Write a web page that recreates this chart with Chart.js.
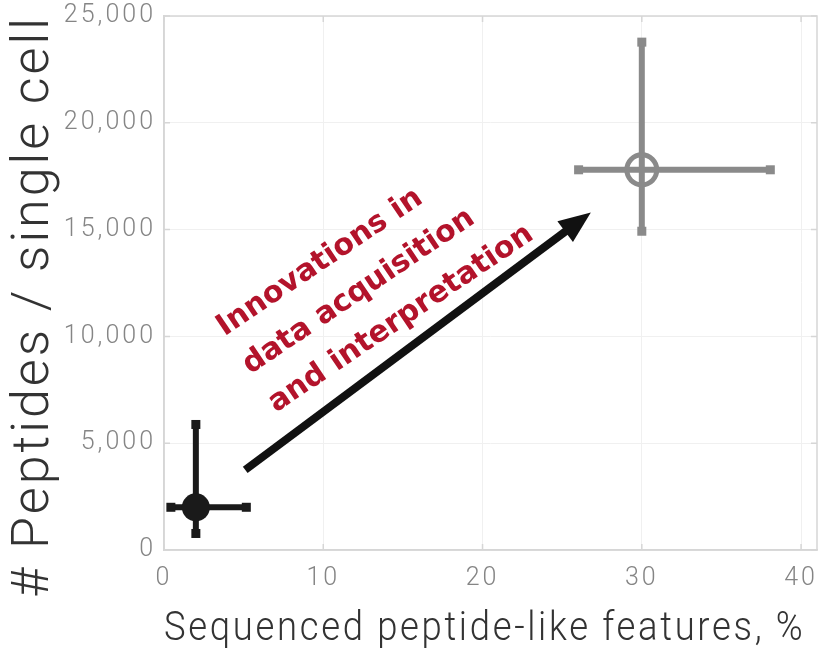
<!DOCTYPE html>
<html>
<head>
<meta charset="utf-8">
<script src="https://cdn.jsdelivr.net/npm/chart.js@4"></script>
<style>
  body { margin: 0; background: #fff; }
</style>
</head>
<body>
<canvas id="chart" width="831" height="651"></canvas>
<script>
// values
var seriesNames = ['before', 'after'];
var xValues = [2, 30];
var yValues = [2000, 17800];
var xLow = [0.4, 26];
var xHigh = [5.2, 38.1];
var yLow = [750, 14900];
var yHigh = [5900, 23800];
var seriesColors = ['#1a1a1a', '#8a8a8a'];

var xTicks = [0, 10, 20, 30, 40];
var yTicks = [0, 5000, 10000, 15000, 20000, 25000];

var arrowFrom = [5.1, 3750];
var arrowTo = [26.8, 15800];
var noteLines = ['Innovations in', 'data acquisition', 'and interpretation'];
var noteAnchor = [3.8, 10000];

var axisFont = 'Roboto';

// the axis text in the picture is widely spaced
var spacing = {
  id: 'spacing',
  beforeUpdate: function(chart) { chart.ctx.letterSpacing = '3px'; },
  beforeDraw: function(chart) { chart.ctx.letterSpacing = '3px'; }
};

// error bars under the markers
var errorBars = {
  id: 'errorBars',
  beforeDatasetsDraw: function(chart) {
    var c = chart.ctx, xs = chart.scales.x, ys = chart.scales.y;
    c.save();
    for (let i = 0; i < xValues.length; i++) {
      var px = xs.getPixelForValue(xValues[i]);
      var py = ys.getPixelForValue(yValues[i]);
      var x1 = xs.getPixelForValue(xLow[i]), x2 = xs.getPixelForValue(xHigh[i]);
      var y1 = ys.getPixelForValue(yLow[i]), y2 = ys.getPixelForValue(yHigh[i]);
      c.strokeStyle = seriesColors[i];
      c.fillStyle = seriesColors[i];
      c.lineWidth = 6;
      c.beginPath();
      c.moveTo(x1, py); c.lineTo(x2, py);
      c.moveTo(px, y1); c.lineTo(px, y2);
      c.stroke();
      // square caps
      c.fillRect(x1 - 4, py - 4.5, 9, 9);
      c.fillRect(x2 - 5, py - 4.5, 9, 9);
      c.fillRect(px - 4.5, y1 - 5, 9, 9);
      c.fillRect(px - 4.5, y2 - 4, 9, 9);
    }
    c.restore();
  }
};

// plot frame, inner ticks, arrow and note
var extras = {
  id: 'extras',
  afterDatasetsDraw: function(chart) {
    var c = chart.ctx, a = chart.chartArea, xs = chart.scales.x, ys = chart.scales.y;
    c.save();
    c.strokeStyle = '#d6d6d6';
    c.lineWidth = 1.5;
    c.strokeRect(a.left, a.top, a.right - a.left, a.bottom - a.top);
    c.beginPath();
    xTicks.forEach(function(v) {
      var p = xs.getPixelForValue(v);
      c.moveTo(p, a.top); c.lineTo(p, a.top + 6);
      c.moveTo(p, a.bottom); c.lineTo(p, a.bottom - 6);
    });
    yTicks.forEach(function(v) {
      var p = ys.getPixelForValue(v);
      c.moveTo(a.right, p); c.lineTo(a.right - 6, p);
      c.moveTo(a.left, p); c.lineTo(a.left + 6, p);
    });
    c.stroke();

    // arrow
    var sx = xs.getPixelForValue(arrowFrom[0]), sy = ys.getPixelForValue(arrowFrom[1]);
    var ex = xs.getPixelForValue(arrowTo[0]), ey = ys.getPixelForValue(arrowTo[1]);
    var ang = Math.atan2(ey - sy, ex - sx);
    var headLen = 32, headW = 13;
    var bx = ex - headLen * Math.cos(ang), by = ey - headLen * Math.sin(ang);
    c.strokeStyle = '#111';
    c.fillStyle = '#111';
    c.lineWidth = 8;
    c.beginPath();
    c.moveTo(sx, sy); c.lineTo(bx + 4 * Math.cos(ang), by + 4 * Math.sin(ang));
    c.stroke();
    c.beginPath();
    c.moveTo(ex, ey);
    c.lineTo(bx + headW * Math.sin(ang), by - headW * Math.cos(ang));
    c.lineTo(bx - headW * Math.sin(ang), by + headW * Math.cos(ang));
    c.closePath();
    c.fill();

    // rotated note
    var tx = xs.getPixelForValue(noteAnchor[0]), ty = ys.getPixelForValue(noteAnchor[1]);
    c.translate(tx, ty);
    c.rotate(-34 * Math.PI / 180);
    c.letterSpacing = '0px';
    c.fillStyle = '#b3132b';
    c.font = 'bold 30px "DejaVu Sans"';
    c.textAlign = 'left';
    c.textBaseline = 'alphabetic';
    noteLines.forEach(function(t, i) {
      c.fillText(t, 0, i * 46);
    });
    c.restore();
  }
};

var ctx = document.getElementById('chart');
var myChart = new Chart(ctx, {
  type: 'scatter',
  data: {
    datasets: [{
      label: seriesNames[0],
      data: [{x: xValues[0], y: yValues[0]}],
      pointRadius: 14,
      pointBackgroundColor: seriesColors[0],
      pointBorderColor: seriesColors[0],
      pointBorderWidth: 0
    }, {
      label: seriesNames[1],
      data: [{x: xValues[1], y: yValues[1]}],
      pointRadius: 15,
      pointBackgroundColor: 'rgba(0,0,0,0)',
      pointBorderColor: seriesColors[1],
      pointBorderWidth: 5
    }]
  },
  options: {
    responsive: false,
    animation: false,
    layout: { autoPadding: false, padding: { top: 16, right: 14, left: 0, bottom: 0 } },
    plugins: { legend: { display: false }, tooltip: { enabled: false } },
    scales: {
      x: {
        type: 'linear',
        min: 0,
        max: 41,
        afterBuildTicks: function(s) {
          s.ticks = xTicks.map(function(v) { return {value: v}; });
        },
        afterFit: function(s) {
          s.height = 101;
          s.paddingLeft = 0;
          s.paddingRight = 0;
        },
        grid: { color: '#f0f0f0', drawTicks: false },
        border: { color: '#d6d6d6', width: 1.5 },
        ticks: {
          padding: 14,
          color: '#858585',
          font: { family: axisFont, size: 25, weight: 300 }
        },
        title: {
          display: true,
          text: 'Sequenced peptide-like features, % ',
          color: '#333',
          font: { family: axisFont, size: 41, weight: 300, lineHeight: 1.0 },
          padding: { top: 0, bottom: 1 }
        }
      },
      y: {
        min: 0,
        max: 25000,
        afterBuildTicks: function(s) {
          s.ticks = yTicks.map(function(v) { return {value: v}; });
        },
        afterFit: function(s) {
          s.width = 164;
          s.paddingTop = 0;
          s.paddingBottom = 0;
        },
        grid: { color: '#f0f0f0', drawTicks: false },
        border: { color: '#d6d6d6', width: 1.5 },
        ticks: {
          padding: 8,
          color: '#858585',
          font: { family: axisFont, size: 25, weight: 300 },
          callback: function(v) { return v.toLocaleString('en-US'); }
        },
        title: {
          display: true,
          text: '# Peptides / single cell   ',
          color: '#333',
          font: { family: axisFont, size: 52, weight: 300, lineHeight: 1.2 },
          padding: { top: 4, bottom: 0 }
        }
      }
    }
  },
  plugins: [spacing, errorBars, extras]
});
</script>
</body>
</html>
